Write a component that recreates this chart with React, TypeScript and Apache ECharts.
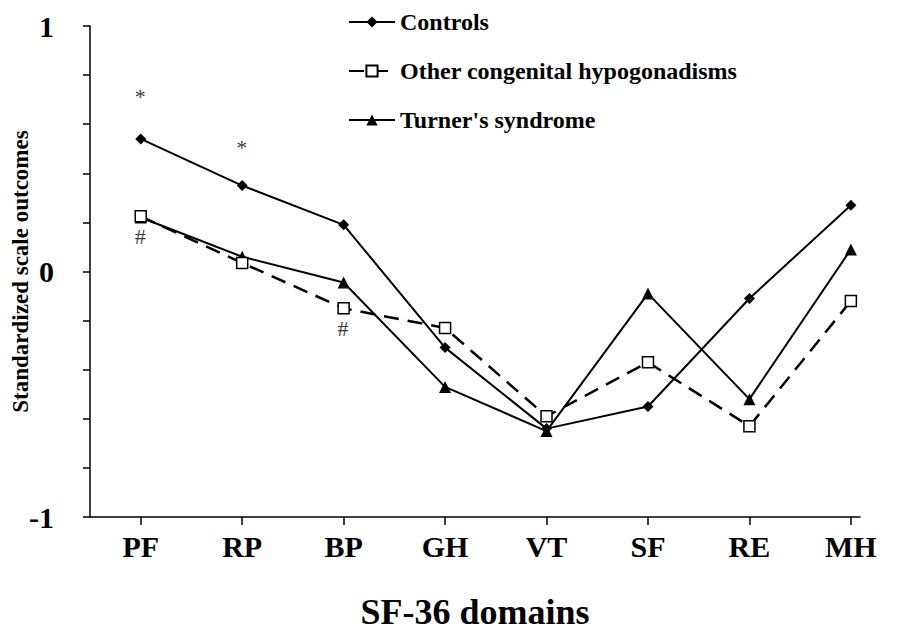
import React, { useEffect, useRef } from "react";
import * as echarts from "echarts";

const categories = ["PF", "RP", "BP", "GH", "VT", "SF", "RE", "MH"];
const controls = [0.54, 0.35, 0.19, -0.31, -0.64, -0.55, -0.11, 0.27];
const otherHypo = [0.225, 0.035, -0.15, -0.23, -0.59, -0.37, -0.63, -0.12];
const turner = [0.22, 0.06, -0.045, -0.47, -0.65, -0.09, -0.52, 0.09];
const yTickLabels = [-1, 0, 1];
const annotationCats = ["PF", "RP", "PF", "BP"];
const annotationVals = [0.71, 0.505, 0.14, -0.235];
const annotationTexts = ["*", "*", "#", "#"];

const FONT = "'Liberation Serif', 'Times New Roman', serif";

const toPairs = (vals: number[]) => vals.map((v, i) => [i, v]);

export default function App() {
  const ref = useRef<HTMLDivElement>(null);
  useEffect(() => {
    if (!ref.current) return;
    const chart = echarts.init(ref.current, undefined, { renderer: "svg" });
    const catIdx = categories.map((_, i) => i);
    chart.setOption({
      animation: false,
      backgroundColor: "#ffffff",
      textStyle: { fontFamily: FONT, color: "#000" },
      grid: { left: 90, right: 37, top: 26, bottom: 125, containLabel: false, outerBoundsMode: "none" },
      legend: {
        data: ["Controls", "Other congenital hypogonadisms", "Turner's syndrome"],
        orient: "vertical",
        left: 343,
        top: 5,
        itemGap: 25,
        itemWidth: 46,
        itemHeight: 14,
        textStyle: { fontFamily: FONT, fontSize: 24, fontWeight: "bold", color: "#000" },
      },
      xAxis: {
        type: "value",
        min: -0.5,
        max: 7.09,
        splitLine: { show: false },
        axisLine: { show: true, onZero: false, lineStyle: { color: "#000", width: 1.5 } },
        axisTick: { show: true, customValues: catIdx, length: 8, lineStyle: { color: "#000", width: 1.5 } },
        axisLabel: {
          customValues: catIdx,
          formatter: (v: number) => categories[Math.round(v)] ?? "",
          margin: 14,
          fontFamily: FONT,
          fontSize: 30,
          fontWeight: "bold",
          color: "#000",
        },
        name: "SF-36 domains",
        nameLocation: "middle",
        nameGap: 77,
        nameMoveOverlap: false,
        nameTextStyle: { fontFamily: FONT, fontSize: 36, fontWeight: "bold", color: "#000" },
      },
      yAxis: {
        type: "value",
        min: -1,
        max: 1,
        interval: 0.2,
        splitLine: { show: false },
        axisLine: { show: true, onZero: false, lineStyle: { color: "#000", width: 1.5 } },
        axisTick: { show: true, length: 7, lineStyle: { color: "#000", width: 1.5 } },
        axisLabel: {
          customValues: yTickLabels,
          formatter: (v: number) => String(Math.round(v)),
          margin: 36,
          fontFamily: FONT,
          fontSize: 30,
          fontWeight: "bold",
          color: "#000",
        },
        name: "Standardized scale outcomes",
        nameLocation: "middle",
        nameGap: 58,
        nameMoveOverlap: false,
        nameTextStyle: { fontFamily: FONT, fontSize: 23, fontWeight: "bold", color: "#000" },
      },
      series: [
        {
          name: "Controls",
          type: "line",
          data: toPairs(controls),
          symbol: "diamond",
          symbolSize: 11,
          itemStyle: { color: "#000" },
          lineStyle: { color: "#000", width: 2 },
          z: 3,
        },
        {
          name: "Other congenital hypogonadisms",
          type: "line",
          data: toPairs(otherHypo),
          symbol: "rect",
          symbolSize: 11,
          itemStyle: { color: "#fff", borderColor: "#000", borderWidth: 1.5 },
          lineStyle: { color: "#000", width: 2.5, type: [15, 9] },
          z: 4,
        },
        {
          name: "Turner's syndrome",
          type: "line",
          data: toPairs(turner),
          symbol: "triangle",
          symbolSize: 12,
          itemStyle: { color: "#000" },
          lineStyle: { color: "#000", width: 2 },
          z: 3,
        },
        {
          name: "annotations",
          type: "scatter",
          data: annotationCats.map((c, i) => ({
            value: [categories.indexOf(c), annotationVals[i]],
            label: { formatter: annotationTexts[i] },
          })),
          symbolSize: 1,
          itemStyle: { color: "rgba(0,0,0,0)" },
          label: {
            show: true,
            position: [0, 0],
            align: "center",
            verticalAlign: "middle",
            fontFamily: FONT,
            fontSize: 22,
            color: "#000",
            textBorderWidth: 0,
          },
          silent: true,
        },
      ],
    });
    return () => chart.dispose();
  }, []);
  return (
    <div
      ref={ref}
      style={{ position: "absolute", left: 0, top: 0, width: 897, height: 642 }}
    />
  );
}
